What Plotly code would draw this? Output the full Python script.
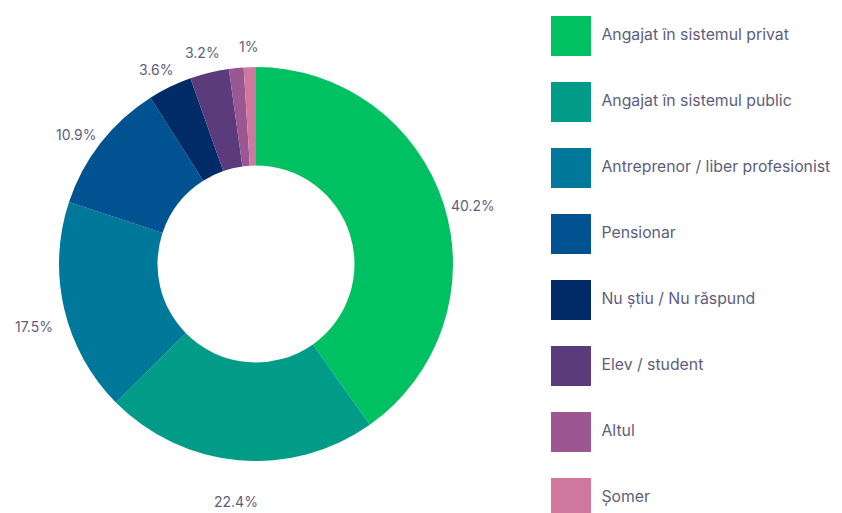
import math
import plotly.graph_objects as go

categories = [
    "Angajat în sistemul privat",
    "Angajat în sistemul public",
    "Antreprenor / liber profesionist",
    "Pensionar",
    "Nu știu / Nu răspund",
    "Elev / student",
    "Altul",
    "Șomer",
]
values = [40.2, 22.4, 17.5, 10.9, 3.6, 3.2, 1.2, 1.0]
show_label = [True, True, True, True, True, True, False, True]
colors = ["#00C161", "#009C87", "#00789A", "#005291", "#002B67", "#5C3B7C", "#9B5791", "#D0779F"]

FONT = "Inter"
TXT = "#5E5E7C"
W, H = 842, 513
OFF = 8  # page body margin offset

# pie box in screen pixels
PX0, PX1, PY0, PY1 = 59, 453, 67, 461
cx, cy = (PX0 + PX1) / 2, (PY0 + PY1) / 2
R_LABEL = 228

fig = go.Figure()
fig.add_trace(go.Pie(
    labels=categories,
    values=values,
    textinfo="none",
    marker=dict(colors=colors, line=dict(width=0)),
    hole=0.5,
    sort=False,
    direction="clockwise",
    rotation=0,
    domain=dict(x=[(PX0 - OFF) / W, (PX1 - OFF) / W],
                y=[1 - (PY1 - OFF) / H, 1 - (PY0 - OFF) / H]),
    showlegend=False,
    hoverinfo="label+percent",
))

# percentage labels around the ring, positioned from cumulative values
total = sum(values)
cum = 0.0
annotations = []
for v, s in zip(values, show_label):
    mid = (cum + v / 2) / total * 2 * math.pi
    cum += v
    if not s:
        continue
    sx = cx + R_LABEL * math.sin(mid)
    sy = cy - R_LABEL * math.cos(mid)
    annotations.append(dict(
        x=(sx - OFF) / W, y=1 - (sy - OFF) / H, xref="paper", yref="paper",
        text=f"{v:g}%", showarrow=False, xanchor="center", yanchor="top",
        font=dict(family=FONT, size=14, color=TXT),
    ))

# legend drawn as a scatter column of swatches
fig.add_trace(go.Scatter(
    x=[0] * len(categories),
    y=list(range(len(categories))),
    mode="markers+text",
    marker=dict(symbol="square", size=40, color=colors, line=dict(width=0)),
    text=[" " + c for c in categories],
    textposition="middle right",
    textfont=dict(family=FONT, size=15.8, color=TXT),
    hoverinfo="skip",
    showlegend=False,
    cliponaxis=False,
))

fig.update_layout(
    width=W,
    height=H,
    margin=dict(l=0, r=0, t=0, b=0),
    paper_bgcolor="white",
    plot_bgcolor="white",
    xaxis=dict(domain=[0.6, 1], range=[-0.1716, 0.8284], visible=False, fixedrange=True),
    yaxis=dict(domain=[0, 1], range=[7.349, -0.424], visible=False, fixedrange=True),
    annotations=annotations,
)

fig.write_html("out.html")
